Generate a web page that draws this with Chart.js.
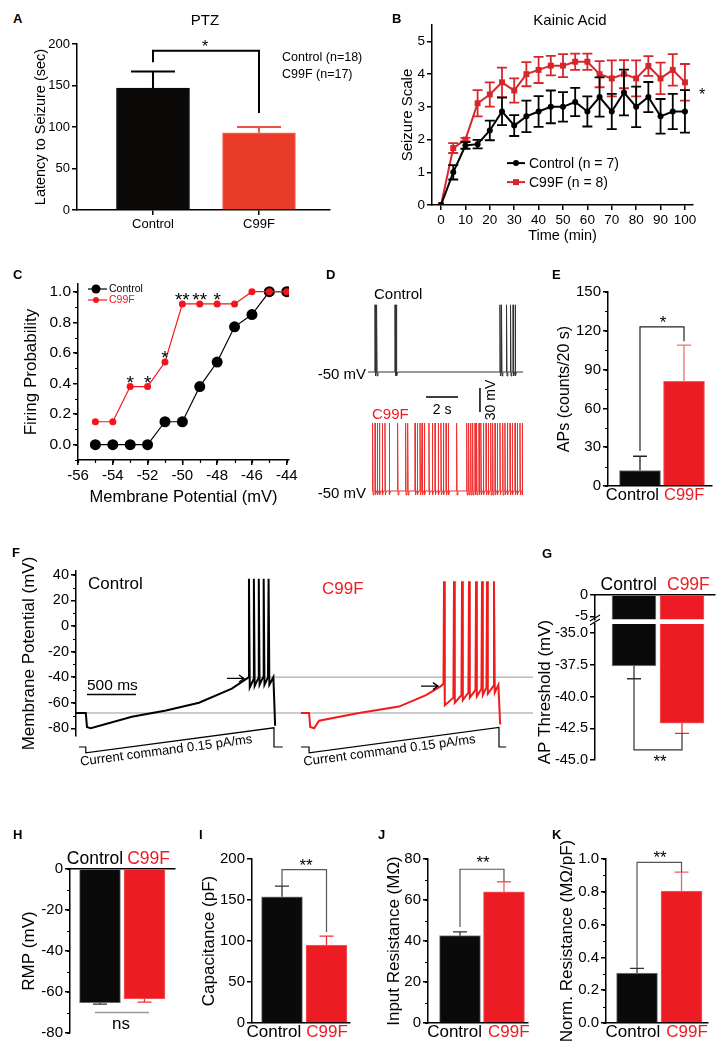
<!DOCTYPE html>
<html>
<head>
<meta charset="utf-8">
<script src="https://cdn.jsdelivr.net/npm/chart.js@4.4.1/dist/chart.umd.min.js"></script>
<style>
body { margin: 0; width: 724px; height: 1050px; position: relative; overflow: hidden; background: #fff; font-family: "Liberation Sans", Arial, sans-serif; }
canvas { position: absolute; }
.t { position: absolute; white-space: nowrap; line-height: 1; }
</style>
</head>
<body>
<script>
// ===== Data =====
const groups = ['Control', 'C99F'];
const groupColors = ['#000', '#ec1c24'];

// A - PTZ latency
const ptzLatency = [147, 93];
const ptzSem = [20, 7];

// B - Kainic acid seizure scale
const kaTime = [0, 5, 10, 15, 20, 25, 30, 35, 40, 45, 50, 55, 60, 65, 70, 75, 80, 85, 90, 95, 100];
const kaControl = [0, 1.0, 1.82, 1.86, 2.28, 2.86, 2.43, 2.71, 2.86, 3.0, 3.0, 3.15, 2.86, 3.3, 2.86, 3.44, 3.0, 3.3, 2.71, 2.86, 2.86];
const kaControlSem = [0, 0.22, 0.1, 0.13, 0.3, 0.42, 0.32, 0.48, 0.47, 0.5, 0.45, 0.43, 0.46, 0.6, 0.54, 0.7, 0.62, 0.46, 0.53, 0.54, 0.65];
const kaC99F = [0, 1.74, 2.0, 3.11, 3.38, 3.75, 3.5, 4.0, 4.13, 4.26, 4.26, 4.38, 4.38, 4.0, 3.87, 4.0, 3.87, 4.25, 3.87, 4.13, 3.75];
const kaC99FSem = [0, 0.15, 0.05, 0.4, 0.37, 0.45, 0.37, 0.37, 0.4, 0.3, 0.35, 0.25, 0.25, 0.4, 0.55, 0.43, 0.55, 0.3, 0.48, 0.48, 0.56];

// C - firing probability
const vmSteps = [-55, -54, -53, -52, -51, -50, -49, -48, -47, -46, -45, -44];
const fireControl = [0, 0, 0, 0, 0.15, 0.15, 0.38, 0.54, 0.77, 0.85, 1.0, 1.0];
const fireC99F = [0.15, 0.15, 0.38, 0.38, 0.54, 0.92, 0.92, 0.92, 0.92, 1.0, 1.0, 1.0];
const starVm = [-53, -52, -51, -50, -49, -48];
const starMarks = ['*', '*', '*', '**', '**', '*'];

// D - spontaneous firing (spike times in s)
const dControlSpikes = [0.44, 0.54, 1.69, 1.78, 8.25, 8.35, 8.66, 8.91, 9.07, 9.2];
const dC99FSpikes = [0.04, 0.19, 0.33, 0.46, 0.64, 0.81, 1.08, 1.6, 2.1, 2.23, 2.69, 2.83, 3.0, 3.13, 3.27,
  3.56, 3.77, 3.94, 4.14, 4.31, 4.46, 4.63, 4.77, 5.29, 5.92, 6.04, 6.17, 6.29, 6.44, 6.54, 6.69, 6.81,
  6.96, 7.13, 7.27, 7.42, 7.54, 7.69, 7.83, 8.0, 8.17, 8.31, 8.46, 8.63, 8.77, 8.94, 9.08, 9.25, 9.39];

// E - AP counts
const apCount = [12, 81];
const apSem = [11, 28];

// F - ramp recordings (ms, mV)
const fCtrlT = [0, 100, 112, 150, 570, 918, 1255, 1590, 1745, 1762];
const fCtrlV = [-68, -68, -79, -80, -71, -66, -60, -49, -41, -40];
const fCtrlSpikes = [1765, 1815, 1865, 1915, 1965];
const fCtrlTroughs = [-48, -47, -46, -46, -46];
const fCtrlEnd = [2020, -78];
const fC99FT = [2296, 2378, 2390, 2430, 2480, 2888, 3296, 3571, 3724, 3750];
const fC99FV = [-68, -68, -79, -80, -74, -68, -63, -54, -47, -45];
const fC99FSpikes = [3755, 3857, 3939, 4010, 4082, 4143, 4194, 4265];
const fC99FTroughs = [-62, -60, -58, -56, -55, -54, -53, -52];
const fC99FEnd = [4316, -77];
const fThreshold = [[1745, -41], [3724, -47]];
const cmdCtrlT = [30, 100, 100, 2020, 2020, 2110];
const cmdCtrlI = [0, 0, -65, 215, 0, 0];
const cmdC99FT = [2296, 2378, 2378, 4316, 4316, 4390];
const cmdC99FI = [0, 0, -65, 218, 0, 0];

// G - AP threshold
const thrMean = [-37.6, -42.1];
const thrSem = [1.0, 0.8];
// H - RMP
const rmpMean = [-65.3, -63.4];
const rmpSem = [0.6, 1.5];
// I - capacitance
const capMean = [154, 95];
const capSem = [13, 11];
// J - input resistance
const rinMean = [42.6, 64.0];
const rinSem = [1.9, 4.9];
// K - normalized resistance
const normMean = [0.305, 0.805];
const normSem = [0.028, 0.115];

// ===== Setup =====
const FONT = '"Liberation Sans", Arial, sans-serif';
Chart.defaults.font.family = FONT;
Chart.defaults.color = '#000';
Chart.defaults.animation = false;
Chart.defaults.responsive = false;
Chart.defaults.devicePixelRatio = 1;
Chart.defaults.plugins.legend.display = false;
Chart.defaults.plugins.tooltip.enabled = false;

function fnt(size, bold) { return (bold ? 'bold ' : '') + size + 'px ' + FONT; }

function txt(s, x, y, size, o = {}) {
    const d = document.createElement('div');
    d.className = 't';
    d.textContent = s;
    d.style.left = x + 'px';
    d.style.top = y + 'px';
    d.style.fontSize = size + 'px';
    d.style.color = o.color || '#000';
    if (o.bold) d.style.fontWeight = 'bold';
    const ax = o.a === 'c' ? '-50%' : o.a === 'r' ? '-100%' : '0';
    d.style.transform = `translate(${ax},-50%)`;
    document.body.appendChild(d);
}

function place(box, m) {
    const c = document.createElement('canvas');
    c.width = box.w + m.l + m.r;
    c.height = box.h + m.t + m.b;
    c.style.left = (box.x - m.l) + 'px';
    c.style.top = (box.y - m.t) + 'px';
    document.body.appendChild(c);
    return c;
}

function yAxis(o) {
    return {
        type: 'linear', position: 'left', min: o.min, max: o.max,
        afterFit: s => { s.width = o.w; },
        border: { color: '#000', width: 1.5 },
        grid: { drawOnChartArea: false, tickLength: 5, color: '#000', lineWidth: 1.5 },
        ticks: { stepSize: o.step, includeBounds: false, maxTicksLimit: 40, padding: 2, color: '#000',
                 font: { size: o.fs }, callback: o.fmt || (v => String(v)) },
        title: { display: !!o.title, text: o.title || '', color: '#000', padding: 0, font: { size: o.ts || 17 } }
    };
}

function xAxis(o) {
    return {
        type: 'linear', position: 'bottom', min: o.min, max: o.max,
        afterFit: s => { s.height = o.h; },
        border: { color: '#000', width: 1.5 },
        grid: { drawOnChartArea: false, tickLength: 5, color: '#000', lineWidth: 1.5 },
        ticks: { stepSize: o.step, includeBounds: false, maxTicksLimit: 40, padding: 2, color: '#000',
                 autoSkip: false, maxRotation: 0, font: { size: o.fs }, callback: v => String(v) },
        title: { display: true, text: o.title, color: '#000', padding: 0, font: { size: o.ts } }
    };
}

function minorTicks(ch, id, step, len) {
    const s = ch.scales[id], ctx = ch.ctx;
    ctx.save();
    ctx.strokeStyle = '#000';
    ctx.lineWidth = 1.2;
    ctx.beginPath();
    for (let v = Math.ceil(s.min / step - 1e-9) * step; v <= s.max + 1e-9; v += step) {
        const p = Math.round(s.getPixelForValue(v)) + 0.5;
        if (s.isHorizontal()) { ctx.moveTo(p, s.top); ctx.lineTo(p, s.top + len); }
        else { ctx.moveTo(s.right - len, p); ctx.lineTo(s.right, p); }
    }
    ctx.stroke();
    ctx.restore();
}

function errBars(ch, di, errs, dir, colors, cap, lw) {
    const meta = ch.getDatasetMeta(di);
    const ys = ch.scales[meta.yAxisID];
    const data = ch.data.datasets[di].data;
    const ctx = ch.ctx;
    ctx.save();
    ctx.lineWidth = lw;
    meta.data.forEach((el, i) => {
        if (!errs[i]) return;
        const v = data[i].y;
        ctx.strokeStyle = Array.isArray(colors) ? colors[i] : colors;
        const ends = dir === 0 ? [v + errs[i], v - errs[i]] : [v + dir * errs[i]];
        ctx.beginPath();
        ends.forEach(e => {
            const y1 = ys.getPixelForValue(v), y2 = ys.getPixelForValue(e);
            ctx.moveTo(el.x, y1); ctx.lineTo(el.x, y2);
            ctx.moveTo(el.x - cap / 2, y2); ctx.lineTo(el.x + cap / 2, y2);
        });
        ctx.stroke();
    });
    ctx.restore();
}

function bracket(ch, xa, ya, xb, yb, yl, color, lw) {
    const X = ch.scales.x, Y = ch.scales.y, ctx = ch.ctx;
    ctx.save();
    ctx.strokeStyle = color;
    ctx.lineWidth = lw;
    ctx.beginPath();
    ctx.moveTo(X.getPixelForValue(xa), Y.getPixelForValue(ya));
    ctx.lineTo(X.getPixelForValue(xa), Y.getPixelForValue(yl));
    ctx.lineTo(X.getPixelForValue(xb), Y.getPixelForValue(yl));
    ctx.lineTo(X.getPixelForValue(xb), Y.getPixelForValue(yb));
    ctx.stroke();
    ctx.restore();
}

// group labels set either side of the gap between the two bars
function groupLabels(ch, o, top) {
    const X = ch.scales.x, ctx = ch.ctx;
    const mid = X.getPixelForValue(1.5);
    const ay = top ? ch.chartArea.top : ch.chartArea.bottom;
    ctx.save();
    ctx.font = fnt(o.xfs);
    ctx.textBaseline = top ? 'alphabetic' : 'top';
    const y = top ? ay - 5 : ay + 1;
    ctx.fillStyle = o.xColors[0];
    ctx.textAlign = 'right';
    ctx.fillText(groups[0], mid + o.lbl[0], y);
    ctx.fillStyle = o.xColors[1];
    ctx.textAlign = 'left';
    ctx.fillText(groups[1], mid + o.lbl[1], y);
    ctx.restore();
}

// ===== Bar panels =====
function barPanel(o) {
    const m = o.m, top = o.xPos === 'top';
    const c = place(o.box, m);
    return new Chart(c, {
        type: 'bar',
        data: {
            datasets: [{
                data: o.values.map((v, i) => ({ x: i + 1, y: v })),
                backgroundColor: o.colors,
                borderColor: o.borders,
                borderWidth: 1,
                barThickness: o.bw
            }]
        },
        options: {
            layout: { padding: { left: 0, right: m.r, top: top ? 0 : m.t, bottom: (top || o.xHidden) ? m.b : 0 } },
            scales: {
                x: {
                    type: 'linear', position: top ? 'top' : 'bottom', display: !o.xHidden,
                    min: o.xmin, max: o.xmax, offset: false,
                    afterBuildTicks: s => { s.ticks = groups.map((g, i) => ({ value: i + 1 })); },
                    afterFit: s => { s.height = o.xHidden ? 0 : top ? m.t : m.b; },
                    border: { color: '#000', width: 1.5 },
                    grid: { offset: false, drawOnChartArea: false, drawTicks: !!o.xTicks, tickLength: 5, color: '#000', lineWidth: 1.5 },
                    ticks: { display: !o.lbl, autoSkip: false, maxRotation: 0, padding: o.xPad ?? 1, font: { size: o.xfs },
                             color: t => o.xColors[t.index], callback: v => groups[v - 1] }
                },
                y: yAxis(Object.assign({ w: m.l }, o.y))
            }
        },
        plugins: [{ id: 'deco', afterDatasetsDraw: ch => {
            if (o.lbl) groupLabels(ch, o, top);
            if (o.draw) o.draw(ch);
        } }]
    });
}

// A
barPanel({
    box: { x: 77, y: 44, w: 253, h: 166 }, m: { l: 45, t: 14, r: 12, b: 30 },
    xmin: 0.283, xmax: 2.67, bw: 73, xTicks: true, xPad: 2, xfs: 13, xColors: ['#000', '#000'],
    values: ptzLatency, colors: ['#0c0909', '#ea3b29'], borders: ['#0c0909', '#f07a66'],
    y: { min: 0, max: 200, step: 50, fs: 13, title: 'Latency to Seizure (sec)', ts: 14.5 },
    draw: ch => {
        errBars(ch, 0, ptzSem, 1, ['#000', '#e8553e'], 44, 2);
        bracket(ch, 1, 178, 2, 117, 192, '#000', 2);
    }
});

// E
barPanel({
    box: { x: 608, y: 292, w: 104, h: 194 }, m: { l: 53, t: 12, r: 8, b: 28 },
    xmin: 0.273, xmax: 2.636, bw: 41, xfs: 16.5, xColors: groupColors, lbl: [-3, 2],
    values: apCount, colors: ['#0b0a0a', '#ed1c24'], borders: ['#777', '#f26060'],
    y: { min: 0, max: 150, step: 30, fs: 15, title: 'APs (counts/20 s)', ts: 16 },
    draw: ch => {
        minorTicks(ch, 'y', 15, 3);
        errBars(ch, 0, apSem, 1, ['#222', '#f07070'], 14, 1.3);
        bracket(ch, 1, 27, 2, 112, 123, '#222', 1.2);
    }
});

// G (broken axis: upper and lower parts)
barPanel({
    box: { x: 595, y: 595, w: 120, h: 25 }, m: { l: 60, t: 26, r: 9, b: 10 }, xPos: 'top',
    xmin: 0.1875, xmax: 2.6875, bw: 44, xfs: 17.5, xColors: groupColors, lbl: [-1, 9],
    values: thrMean, colors: ['#0b0a0a', '#ed1c24'], borders: ['#888', '#f26060'],
    y: { min: -5.7, max: 0, step: 5, fs: 14.5 }
});
barPanel({
    box: { x: 595, y: 624, w: 120, h: 136 }, m: { l: 60, t: 30, r: 9, b: 30 }, xHidden: true,
    xmin: 0.1875, xmax: 2.6875, bw: 44, xfs: 17, xColors: groupColors,
    values: thrMean, colors: ['#0b0a0a', '#ed1c24'], borders: ['#888', '#f26060'],
    y: { min: -45, max: -34.29, step: 2.5, fs: 14.5, fmt: v => v.toFixed(1), title: 'AP Threshold (mV)', ts: 17 },
    draw: ch => {
        errBars(ch, 0, thrSem, -1, ['#333', '#e83030'], 14, 1.3);
        bracket(ch, 1, -38.6, 2, -42.9, -44.2, '#333', 1.2);
        const ctx = ch.ctx, x = ch.chartArea.left, y = ch.chartArea.top - 2;
        ctx.save();
        ctx.strokeStyle = '#000';
        ctx.lineWidth = 1.2;
        ctx.beginPath();
        ctx.moveTo(x - 5, y - 1); ctx.lineTo(x + 5, y - 7);
        ctx.moveTo(x - 5, y + 3); ctx.lineTo(x + 5, y - 3);
        ctx.stroke();
        ctx.restore();
    }
});

// H
barPanel({
    box: { x: 70, y: 869, w: 105, h: 164 }, m: { l: 51, t: 28, r: 10, b: 15 }, xPos: 'top',
    xmin: 0.326, xmax: 2.686, bw: 41, xfs: 17.5, xColors: groupColors, lbl: [1, 5],
    values: rmpMean, colors: ['#0b0a0a', '#ed1c24'], borders: ['#888', '#f26060'],
    y: { min: -80, max: 0, step: 20, fs: 15, title: 'RMP (mV)', ts: 17 },
    draw: ch => {
        minorTicks(ch, 'y', 10, 3);
        errBars(ch, 0, rmpSem, -1, ['#333', '#e83030'], 14, 1.3);
        const X = ch.scales.x, Y = ch.scales.y, ctx = ch.ctx;
        ctx.save();
        ctx.strokeStyle = '#999';
        ctx.lineWidth = 1.5;
        ctx.beginPath();
        ctx.moveTo(X.getPixelForValue(0.888), Y.getPixelForValue(-70));
        ctx.lineTo(X.getPixelForValue(2.1), Y.getPixelForValue(-70));
        ctx.stroke();
        ctx.restore();
    }
});

// I
barPanel({
    box: { x: 252, y: 859, w: 98, h: 164 }, m: { l: 53, t: 20, r: 10, b: 28 },
    xmin: 0.326, xmax: 2.528, bw: 41, xfs: 17, xColors: groupColors, lbl: [-3, 2],
    values: capMean, colors: ['#0b0a0a', '#ed1c24'], borders: ['#888', '#f26060'],
    y: { min: 0, max: 200, step: 50, fs: 15, title: 'Capacitance (pF)', ts: 17 },
    draw: ch => {
        errBars(ch, 0, capSem, 1, ['#333', '#e83030'], 14, 1.3);
        bracket(ch, 1, 167, 2, 111, 187, '#555', 1.2);
    }
});

// J
barPanel({
    box: { x: 428, y: 859, w: 100, h: 164 }, m: { l: 44, t: 20, r: 10, b: 28 },
    xmin: 0.273, xmax: 2.546, bw: 41, xfs: 17, xColors: groupColors, lbl: [0, 6],
    values: rinMean, colors: ['#0b0a0a', '#ed1c24'], borders: ['#888', '#f26060'],
    y: { min: 0, max: 80, step: 20, fs: 15, title: 'Input Resistance (MΩ)', ts: 17 },
    draw: ch => {
        minorTicks(ch, 'y', 10, 3);
        errBars(ch, 0, rinSem, 1, ['#333', '#f06060'], 14, 1.3);
        bracket(ch, 1, 46.8, 2, 68.9, 75, '#555', 1.2);
    }
});

// K
barPanel({
    box: { x: 606, y: 859, w: 102, h: 164 }, m: { l: 49, t: 24, r: 10, b: 28 },
    xmin: 0.303, xmax: 2.595, bw: 41, xfs: 17, xColors: groupColors, lbl: [1, 7],
    values: normMean, colors: ['#0b0a0a', '#ed1c24'], borders: ['#888', '#f26060'],
    y: { min: 0, max: 1, step: 0.2, fs: 15, fmt: v => v.toFixed(1), title: 'Norm. Resistance (MΩ/pF)', ts: 17 },
    draw: ch => {
        minorTicks(ch, 'y', 0.1, 3);
        errBars(ch, 0, normSem, 1, ['#333', '#f06060'], 14, 1.3);
        bracket(ch, 1, 0.335, 2, 0.92, 0.98, '#555', 1.2);
    }
});

// ===== B - Kainic acid time course =====
(function () {
    const m = { l: 33, t: 10, r: 20, b: 40 };
    const c = place({ x: 432, y: 25, w: 261, h: 180 }, m);
    const ctrlColor = '#000', redColor = '#d7262b';
    new Chart(c, {
        type: 'line',
        data: {
            datasets: [
                { data: kaTime.map((t, i) => ({ x: t, y: kaControl[i] })), borderColor: ctrlColor, borderWidth: 2,
                  pointRadius: 3, pointBackgroundColor: ctrlColor, pointBorderWidth: 0, tension: 0 },
                { data: kaTime.map((t, i) => ({ x: t, y: kaC99F[i] })), borderColor: redColor, borderWidth: 2,
                  pointStyle: 'rect', pointRadius: 4.2, pointBackgroundColor: redColor, pointBorderWidth: 0, tension: 0 }
            ]
        },
        options: {
            layout: { padding: { left: 0, top: m.t, right: m.r, bottom: 0 } },
            scales: {
                x: xAxis({ min: -3.7, max: 103.3, step: 10, fs: 13.5, title: 'Time (min)', ts: 14.5, h: m.b }),
                y: yAxis({ min: 0, max: 5.5, step: 1, fs: 13.5, title: 'Seizure Scale', ts: 15, w: m.l })
            }
        },
        plugins: [{
            id: 'kaDeco',
            afterDatasetsDraw: ch => {
                errBars(ch, 1, kaC99FSem, 0, redColor, 10, 1.8);
                errBars(ch, 0, kaControlSem, 0, ctrlColor, 10, 1.8);
                const ctx = ch.ctx, ca = ch.chartArea;
                const rows = [['Control (n = 7)', ctrlColor, 'circle'], ['C99F (n = 8)', redColor, 'rect']];
                rows.forEach((r, i) => {
                    const y = ca.top + 138 + i * 19;
                    ctx.save();
                    ctx.strokeStyle = r[1];
                    ctx.fillStyle = r[1];
                    ctx.lineWidth = 2;
                    ctx.beginPath();
                    ctx.moveTo(ca.left + 75, y); ctx.lineTo(ca.left + 93, y);
                    ctx.stroke();
                    if (r[2] === 'circle') { ctx.beginPath(); ctx.arc(ca.left + 84, y, 3, 0, Math.PI * 2); ctx.fill(); }
                    else ctx.fillRect(ca.left + 81, y - 3, 6, 6);
                    ctx.fillStyle = '#000';
                    ctx.font = fnt(14);
                    ctx.textBaseline = 'middle';
                    ctx.fillText(r[0], ca.left + 97, y + 1);
                    ctx.restore();
                });
            }
        }]
    });
})();

// ===== C - firing probability =====
(function () {
    const m = { l: 57, t: 12, r: 15, b: 47 };
    const c = place({ x: 78, y: 284, w: 211, h: 176 }, m);
    const redColor = '#f5141b';
    new Chart(c, {
        type: 'line',
        data: {
            datasets: [
                { data: vmSteps.map((v, i) => ({ x: v, y: fireC99F[i] })), borderColor: redColor, borderWidth: 1.2,
                  pointRadius: 3.5, pointBackgroundColor: redColor, pointBorderWidth: 0, tension: 0 },
                { data: vmSteps.map((v, i) => ({ x: v, y: fireControl[i] })), borderColor: '#000', borderWidth: 1.2,
                  pointRadius: 5.5, pointBackgroundColor: '#000', pointBorderWidth: 0, tension: 0 }
            ]
        },
        options: {
            layout: { padding: { left: 0, top: m.t, right: m.r, bottom: 0 } },
            scales: {
                x: xAxis({ min: -56, max: -43.87, step: 2, fs: 15, title: 'Membrane Potential (mV)', ts: 16.5, h: m.b }),
                y: yAxis({ min: -0.1, max: 1.05, step: 0.2, fs: 15.5, fmt: v => v.toFixed(1), title: 'Firing Probability', ts: 17, w: m.l })
            }
        },
        plugins: [{
            id: 'cDeco',
            afterDatasetsDraw: ch => {
                minorTicks(ch, 'y', 0.1, 3);
                minorTicks(ch, 'x', 1, 3);
                const ctx = ch.ctx, ca = ch.chartArea, X = ch.scales.x, Y = ch.scales.y;
                ctx.save();
                ctx.fillStyle = '#000';
                ctx.font = fnt(19);
                ctx.textAlign = 'center';
                ctx.textBaseline = 'alphabetic';
                starVm.forEach((v, i) => {
                    const p = fireC99F[vmSteps.indexOf(v)];
                    ctx.fillText(starMarks[i], X.getPixelForValue(v), Y.getPixelForValue(p) + 2);
                });
                const rows = [['Control', '#000', 4.5], ['C99F', redColor, 3]];
                rows.forEach((r, i) => {
                    const y = ca.top + 5 + i * 11;
                    ctx.strokeStyle = r[1];
                    ctx.fillStyle = r[1];
                    ctx.lineWidth = 1.2;
                    ctx.beginPath();
                    ctx.moveTo(ca.left + 10, y); ctx.lineTo(ca.left + 29, y);
                    ctx.stroke();
                    ctx.beginPath(); ctx.arc(ca.left + 18, y, r[2], 0, Math.PI * 2); ctx.fill();
                    ctx.font = fnt(10.5);
                    ctx.textAlign = 'left';
                    ctx.textBaseline = 'middle';
                    ctx.fillText(r[0], ca.left + 31, y + 0.5);
                });
                ctx.restore();
            }
        }]
    });
})();

// ===== D - spontaneous firing traces =====
function spikeTrain(spikes, dur, base, peak, ahp) {
    const pts = [{ x: 0, y: base }];
    spikes.forEach(t => {
        pts.push({ x: t - 0.01, y: base }, { x: t, y: peak }, { x: t + 0.03, y: base + ahp }, { x: t + 0.08, y: base });
    });
    pts.push({ x: dur, y: base });
    return pts;
}
function traceChart(box, m, pts, color, xmax, draw) {
    const c = place(box, m);
    return new Chart(c, {
        type: 'line',
        data: { datasets: [{ data: pts, borderColor: color, borderWidth: 1, pointRadius: 0, tension: 0 }] },
        options: {
            layout: { padding: { left: m.l, top: m.t, right: m.r, bottom: m.b } },
            scales: { x: { type: 'linear', display: false, min: 0, max: xmax }, y: { display: false, min: -60, max: 40 } }
        },
        plugins: [{ id: 'trace', afterDraw: ch => { if (draw) draw(ch); } }]
    });
}
traceChart({ x: 368, y: 300, w: 155, h: 80 }, { l: 0, t: 5, r: 20, b: 45 },
    spikeTrain(dControlSpikes, 9.69, -50, 34, -5), '#333', 9.69, ch => {
        const X = ch.scales.x, Y = ch.scales.y, ctx = ch.ctx;
        ctx.save();
        ctx.strokeStyle = '#000';
        ctx.lineWidth = 1.5;
        ctx.beginPath();
        const by = Y.getPixelForValue(-81.25);
        ctx.moveTo(X.getPixelForValue(3.63), by); ctx.lineTo(X.getPixelForValue(5.63), by);
        const vx = X.getPixelForValue(7.0);
        ctx.moveTo(vx, Y.getPixelForValue(-70)); ctx.lineTo(vx, Y.getPixelForValue(-100));
        ctx.stroke();
        ctx.fillStyle = '#000';
        ctx.font = fnt(14);
        ctx.textAlign = 'center';
        ctx.textBaseline = 'middle';
        ctx.fillText('2 s', X.getPixelForValue(4.63), by + 13);
        ctx.translate(vx + 11, Y.getPixelForValue(-85));
        ctx.rotate(-Math.PI / 2);
        ctx.fillText('30 mV', 0, 0);
        ctx.restore();
    });
traceChart({ x: 372, y: 419, w: 151, h: 80 }, { l: 0, t: 5, r: 5, b: 5 },
    spikeTrain(dC99FSpikes, 9.44, -50, 35, -5), '#f03030', 9.44);

// ===== F - ramp recordings =====
function rampTrace(subT, subV, spikes, peak, troughs, end) {
    const pts = subT.map((t, i) => ({ x: t, y: subV[i] }));
    spikes.forEach((t, i) => {
        const next = i + 1 < spikes.length ? spikes[i + 1] : end[0];
        pts.push({ x: t, y: peak }, { x: t + 8, y: troughs[i] }, { x: next - 6, y: troughs[i] + 6 });
    });
    pts.push({ x: end[0] + 12, y: end[1] });
    return pts;
}
(function () {
    const m = { l: 57, t: 22, r: 10, b: 45 };
    const c = place({ x: 76, y: 571, w: 457, h: 165 }, m);
    const redColor = '#f01c1c';
    const cmd = (T, I, color) => ({ data: T.map((t, i) => ({ x: t, y: I[i] })), yAxisID: 'yc', borderColor: color,
        borderWidth: 1.2, pointRadius: 0, tension: 0, clip: false });
    new Chart(c, {
        type: 'line',
        data: {
            datasets: [
                { data: rampTrace(fCtrlT, fCtrlV, fCtrlSpikes, 37, fCtrlTroughs, fCtrlEnd), borderColor: '#000',
                  borderWidth: 2, pointRadius: 0, tension: 0 },
                { data: rampTrace(fC99FT, fC99FV, fC99FSpikes, 35, fC99FTroughs, fC99FEnd), borderColor: redColor,
                  borderWidth: 2, pointRadius: 0, tension: 0 },
                cmd(cmdCtrlT, cmdCtrlI, '#000'),
                cmd(cmdC99FT, cmdC99FI, '#000'),
                { data: [{ x: 0, y: -68 }, { x: 4663, y: -68 }], borderColor: '#9a9a9a', borderWidth: 1, pointRadius: 0 },
                { data: [{ x: fThreshold[0][0], y: -40 }, { x: 4663, y: -40 }], borderColor: '#9a9a9a', borderWidth: 1, pointRadius: 0 }
            ]
        },
        options: {
            layout: { padding: { left: 0, top: m.t, right: m.r, bottom: m.b } },
            scales: {
                x: { type: 'linear', display: false, min: 0, max: 4663 },
                y: yAxis({ min: -86, max: 43, step: 20, fs: 14.5, title: 'Membrane Potential (mV)', ts: 17, w: m.l }),
                yc: { type: 'linear', display: false, min: 123, max: 1971 }
            }
        },
        plugins: [{
            id: 'fDeco',
            afterDatasetsDraw: ch => {
                minorTicks(ch, 'y', 10, 3);
                const X = ch.scales.x, Y = ch.scales.y, YC = ch.scales.yc, ctx = ch.ctx;
                ctx.save();
                ctx.strokeStyle = '#000';
                ctx.fillStyle = '#000';
                ctx.lineWidth = 1.3;
                // threshold arrows
                fThreshold.forEach(([t, v]) => {
                    const px = X.getPixelForValue(t) - 3, py = Y.getPixelForValue(v);
                    ctx.beginPath();
                    ctx.moveTo(px - 17, py); ctx.lineTo(px, py);
                    ctx.moveTo(px - 5, py - 3.5); ctx.lineTo(px, py); ctx.lineTo(px - 5, py + 3.5);
                    ctx.stroke();
                });
                // 500 ms scale bar
                const by = Math.round(Y.getPixelForValue(-53.3)) + 0.5;
                ctx.lineWidth = 1.5;
                ctx.beginPath();
                ctx.moveTo(X.getPixelForValue(112), by); ctx.lineTo(X.getPixelForValue(612), by);
                ctx.stroke();
                ctx.font = fnt(15.5);
                ctx.textBaseline = 'alphabetic';
                ctx.fillText('500 ms', X.getPixelForValue(112), by - 5);
                // current command labels along the ramps
                [[cmdCtrlT, cmdCtrlI], [cmdC99FT, cmdC99FI]].forEach(([T, I]) => {
                    const x0 = X.getPixelForValue(T[2]), y0 = YC.getPixelForValue(I[2]);
                    const x1 = X.getPixelForValue(T[3]), y1 = YC.getPixelForValue(I[3]);
                    const ang = Math.atan2(y1 - y0, x1 - x0);
                    ctx.save();
                    ctx.translate(x0 - 5, y0 + 13);
                    ctx.rotate(ang);
                    ctx.font = fnt(13);
                    ctx.fillText('Current command 0.15 pA/ms', 0, 0);
                    ctx.restore();
                });
                ctx.restore();
            }
        }]
    });
})();

// ===== Text labels =====
const panelLetters = [['A', 13, 18], ['B', 392, 18], ['C', 13, 274], ['D', 326, 274], ['E', 552, 274],
    ['F', 12, 552], ['G', 542, 553], ['H', 13, 834], ['I', 199, 834], ['J', 378, 834], ['K', 552, 834]];
panelLetters.forEach(([s, x, y]) => txt(s, x, y, 13, { bold: true }));

txt('PTZ', 205, 19, 15, { a: 'c' });
txt('Control (n=18)', 282, 57, 12.5);
txt('C99F (n=17)', 282, 74, 12.5);
txt('*', 205, 47, 16, { a: 'c' });
txt('Kainic Acid', 570, 19, 15, { a: 'c' });
txt('*', 702, 95, 16, { a: 'c' });

txt('Control', 374, 293, 15);
txt('-50 mV', 366, 373, 15, { a: 'r' });
txt('C99F', 372, 413, 15, { color: '#ec1c24' });
txt('-50 mV', 366, 492, 15, { a: 'r' });
txt('*', 663, 322, 17, { a: 'c' });

txt('Control', 88, 583, 17);
txt('C99F', 322, 588, 17, { color: '#ec1c24' });
txt('**', 660, 761, 17, { a: 'c' });

txt('ns', 121, 1023, 17, { a: 'c' });
txt('**', 306, 865, 17, { a: 'c' });
txt('**', 483, 862, 17, { a: 'c' });
txt('**', 660, 857, 17, { a: 'c' });
</script>
</body>
</html>
